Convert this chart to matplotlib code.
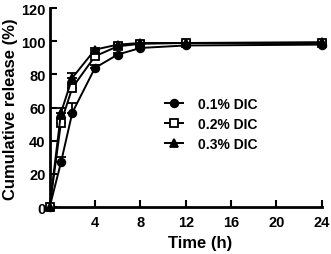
import matplotlib
matplotlib.use('Agg')
import matplotlib.pyplot as plt
from matplotlib.lines import Line2D
import numpy as np

plt.rcParams['font.family'] = ['Liberation Sans', 'DejaVu Sans']
plt.rcParams['font.weight'] = 'bold'

# release data
time_h = [0, 1, 2, 4, 6, 8, 12, 24]
rel_01 = [0, 27, 57, 84, 92, 96, 97.5, 98]
rel_02 = [0, 51, 72, 91, 97, 98.5, 99, 99]
rel_03 = [0, 57, 78, 95, 98, 99, 99, 99.5]
err_01 = [0, 3, 6, 2, 1, 1, 1, 1]
err_02 = [0, 3, 3, 2, 1, 1, 1, 1]
err_03 = [0, 3, 3, 1, 1, 1, 1, 1]
labels = ['0.1% DIC', '0.2% DIC', '0.3% DIC']

fig = plt.figure(figsize=(3.31, 2.55), dpi=100)
ax = fig.add_axes([0.150, 0.184, 0.822, 0.780])

series = [
    (rel_01, err_01, 'o', 'black'),
    (rel_02, err_02, 's', 'white'),
    (rel_03, err_03, '^', 'black'),
]
handles = []
for (vals, err, mk, fc), lab in zip(series, labels):
    ax.errorbar(time_h, vals, yerr=[np.zeros(len(err)), err], color='black',
                marker=mk, markerfacecolor=fc, markeredgecolor='black',
                markersize=5.5, markeredgewidth=1.3, linewidth=1.4,
                capsize=3.5, elinewidth=1.3, capthick=1.3,
                clip_on=False, zorder=3)
    handles.append(Line2D([], [], color='black', marker=mk, markerfacecolor=fc,
                          markeredgecolor='black', markersize=5.5,
                          markeredgewidth=1.3, linewidth=1.4, label=lab))

ax.set_xlim(0, 24)
ax.set_ylim(0, 120)
ax.set_xticks([4, 8, 12, 16, 20, 24])
ax.set_yticks([0, 20, 40, 60, 80, 100, 120])
ax.spines['top'].set_visible(False)
ax.spines['right'].set_visible(False)
ax.spines['left'].set_linewidth(2)
ax.spines['bottom'].set_linewidth(2)
ax.tick_params(direction='in', length=5, width=1.5, labelsize=10.5)
ax.tick_params(axis='x', pad=6)
ax.tick_params(axis='y', pad=3)

ax.set_xlabel('Time (h)', fontsize=12, fontweight='bold')
ax.set_ylabel('Cumulative release (%)', fontsize=12, fontweight='bold')
ax.xaxis.set_label_coords(0.553, -0.14)
ax.yaxis.set_label_coords(-0.117, 0.497)

fig.legend(handles=handles, loc='upper left', bbox_to_anchor=(0.4985, 0.616),
           frameon=False, fontsize=10, handlelength=1.3, labelspacing=0.43,
           handletextpad=1.1, borderpad=0, borderaxespad=0)

fig.savefig('out.png', dpi=100)
